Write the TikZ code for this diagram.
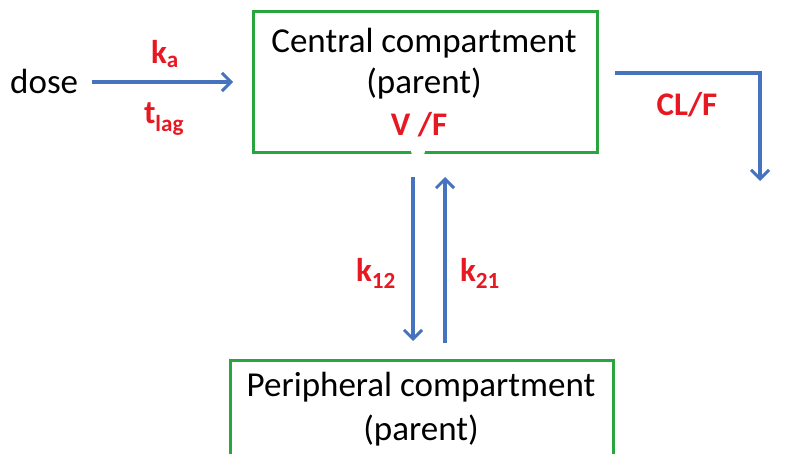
\documentclass[tikz,border=0pt]{standalone}
\usepackage{fontspec}
\setmainfont{Carlito}
\usetikzlibrary{arrows.meta}
\definecolor{flowblue}{RGB}{70,115,190}
\definecolor{boxgreen}{RGB}{40,165,60}
\definecolor{parred}{RGB}{230,25,35}
\tikzset{
  comp/.style={draw=boxgreen, line width=3pt, fill=white},
  flow/.style={draw=flowblue, line width=3.2pt,
    -{Straight Barb[length=9pt,width=18pt,line width=3pt]}},
  lbl/.style={text=black, inner sep=0pt, font=\fontsize{35}{42}\selectfont},
  par/.style={text=parred, inner sep=0pt, font=\fontsize{33}{40}\selectfont\bfseries}
}
\begin{document}
\begin{tikzpicture}[x=1pt,y=-1pt]
\useasboundingbox (0,0) rectangle (811,454);
% compartments
\draw[comp] (253,12) rectangle (597,153);
\draw[comp] (230,360) rectangle (613,470);
\node[lbl, anchor=base] (ctitle) at (424,53) {Central compartment};
\node[lbl, anchor=base] (cpar) at (424,94) {(parent)};
\node[par, anchor=base] (vf) at (419,136) {V /F};
\node[lbl, anchor=base] (ptitle) at (421,396) {Peripheral compartment};
\node[lbl, anchor=base] (ppar) at (421,440) {(parent)};
\fill[white] (418,151) ellipse (7 and 6);
% dosing input
\node[lbl, anchor=base west] (dose) at (10,94) {dose};
\coordinate (din) at (92,82);
\coordinate (dout) at (233,82);
\draw[flow] (din) -- (dout);
\node[par, anchor=base] (ka) at (165,64) {k\textsubscript{a}};
\node[par, anchor=base] (tlag) at (164,124) {t\textsubscript{lag}};
% elimination
\coordinate (cl0) at (615,73);
\coordinate (cl1) at (760,73);
\coordinate (cl2) at (760,181);
\draw[flow] (cl0) -- (cl1) -- (cl2);
\node[par, anchor=base] (clf) at (687,116) {CL/F};
% distribution
\coordinate (a1) at (413,177);
\coordinate (a2) at (413,341);
\coordinate (b1) at (445,343);
\coordinate (b2) at (445,177);
\draw[flow] (a1) -- (a2);
\draw[flow] (b1) -- (b2);
\node[par, anchor=base] (k12) at (376,282) {k\textsubscript{12}};
\node[par, anchor=base] (k21) at (480,282) {k\textsubscript{21}};
\end{tikzpicture}
\end{document}
